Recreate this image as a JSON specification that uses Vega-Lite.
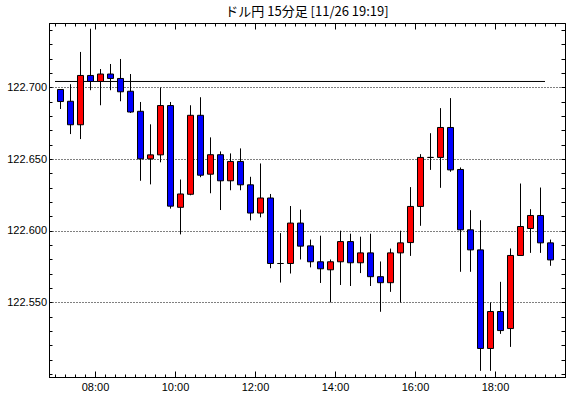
{
  "$schema": "https://vega.github.io/schema/vega-lite/v6.json",
  "width": 516,
  "height": 354,
  "autosize": {"type": "none"},
  "padding": {"left": 49, "top": 23, "right": 5, "bottom": 21},
  "background": "white",
  "title": {"text": "ドル円 15分足 [11/26 19:19]", "font": "Noto Sans CJK JP", "fontSize": 13, "fontWeight": "normal", "color": "black", "anchor": "middle", "offset": 4},
  "config": {
    "view": {"stroke": "black", "strokeWidth": 1},
    "axis": {"labelFont": "Liberation Sans", "labelFontSize": 11, "labelColor": "black", "tickColor": "black", "domainColor": "black", "tickWidth": 1, "grid": false, "title": null}
  },
  "datasets": {
    "candles": [
      {"t": "2015-11-26T07:00:00", "open": 122.6986, "high": 122.6986, "low": 122.6850, "close": 122.6902},
      {"t": "2015-11-26T07:15:00", "open": 122.6904, "high": 122.7023, "low": 122.6675, "close": 122.6740},
      {"t": "2015-11-26T07:30:00", "open": 122.6740, "high": 122.7248, "low": 122.6640, "close": 122.7084},
      {"t": "2015-11-26T07:45:00", "open": 122.7084, "high": 122.7410, "low": 122.6981, "close": 122.7042},
      {"t": "2015-11-26T08:00:00", "open": 122.7042, "high": 122.7129, "low": 122.6876, "close": 122.7094},
      {"t": "2015-11-26T08:15:00", "open": 122.7094, "high": 122.7164, "low": 122.6981, "close": 122.7063},
      {"t": "2015-11-26T08:30:00", "open": 122.7063, "high": 122.7199, "low": 122.6904, "close": 122.6970},
      {"t": "2015-11-26T08:45:00", "open": 122.6974, "high": 122.7094, "low": 122.6822, "close": 122.6829},
      {"t": "2015-11-26T09:00:00", "open": 122.6834, "high": 122.6899, "low": 122.6349, "close": 122.6502},
      {"t": "2015-11-26T09:15:00", "open": 122.6502, "high": 122.6743, "low": 122.6324, "close": 122.6530},
      {"t": "2015-11-26T09:30:00", "open": 122.6530, "high": 122.7000, "low": 122.6478, "close": 122.6874},
      {"t": "2015-11-26T09:45:00", "open": 122.6874, "high": 122.6899, "low": 122.6155, "close": 122.6172},
      {"t": "2015-11-26T10:00:00", "open": 122.6164, "high": 122.6358, "low": 122.5975, "close": 122.6257},
      {"t": "2015-11-26T10:15:00", "open": 122.6255, "high": 122.6876, "low": 122.6248, "close": 122.6806},
      {"t": "2015-11-26T10:30:00", "open": 122.6806, "high": 122.6932, "low": 122.6374, "close": 122.6388},
      {"t": "2015-11-26T10:45:00", "open": 122.6395, "high": 122.6652, "low": 122.6262, "close": 122.6531},
      {"t": "2015-11-26T11:00:00", "open": 122.6531, "high": 122.6554, "low": 122.6145, "close": 122.6349},
      {"t": "2015-11-26T11:15:00", "open": 122.6349, "high": 122.6540, "low": 122.6283, "close": 122.6484},
      {"t": "2015-11-26T11:30:00", "open": 122.6484, "high": 122.6575, "low": 122.6283, "close": 122.6321},
      {"t": "2015-11-26T11:45:00", "open": 122.6321, "high": 122.6377, "low": 122.6073, "close": 122.6124},
      {"t": "2015-11-26T12:00:00", "open": 122.6124, "high": 122.6470, "low": 122.6094, "close": 122.6229},
      {"t": "2015-11-26T12:15:00", "open": 122.6229, "high": 122.6257, "low": 122.5739, "close": 122.5772},
      {"t": "2015-11-26T12:30:00", "open": 122.5772, "high": 122.5984, "low": 122.5639, "close": 122.5772},
      {"t": "2015-11-26T12:45:00", "open": 122.5772, "high": 122.6173, "low": 122.5702, "close": 122.6054},
      {"t": "2015-11-26T13:00:00", "open": 122.6054, "high": 122.6148, "low": 122.5800, "close": 122.5893},
      {"t": "2015-11-26T13:15:00", "open": 122.5895, "high": 122.5939, "low": 122.5745, "close": 122.5784},
      {"t": "2015-11-26T13:30:00", "open": 122.5784, "high": 122.5966, "low": 122.5636, "close": 122.5735},
      {"t": "2015-11-26T13:45:00", "open": 122.5728, "high": 122.5800, "low": 122.5500, "close": 122.5784},
      {"t": "2015-11-26T14:00:00", "open": 122.5784, "high": 122.6001, "low": 122.5622, "close": 122.5925},
      {"t": "2015-11-26T14:15:00", "open": 122.5925, "high": 122.5980, "low": 122.5615, "close": 122.5777},
      {"t": "2015-11-26T14:30:00", "open": 122.5777, "high": 122.5959, "low": 122.5705, "close": 122.5846},
      {"t": "2015-11-26T14:45:00", "open": 122.5846, "high": 122.5980, "low": 122.5615, "close": 122.5680},
      {"t": "2015-11-26T15:00:00", "open": 122.5680, "high": 122.5786, "low": 122.5435, "close": 122.5638},
      {"t": "2015-11-26T15:15:00", "open": 122.5638, "high": 122.5876, "low": 122.5574, "close": 122.5846},
      {"t": "2015-11-26T15:30:00", "open": 122.5846, "high": 122.6001, "low": 122.5500, "close": 122.5916},
      {"t": "2015-11-26T15:45:00", "open": 122.5918, "high": 122.6305, "low": 122.5825, "close": 122.6170},
      {"t": "2015-11-26T16:00:00", "open": 122.6170, "high": 122.6535, "low": 122.6035, "close": 122.6512},
      {"t": "2015-11-26T16:15:00", "open": 122.6512, "high": 122.6681, "low": 122.6425, "close": 122.6512},
      {"t": "2015-11-26T16:30:00", "open": 122.6512, "high": 122.6856, "low": 122.6300, "close": 122.6721},
      {"t": "2015-11-26T16:45:00", "open": 122.6721, "high": 122.6926, "low": 122.6412, "close": 122.6425},
      {"t": "2015-11-26T17:00:00", "open": 122.6428, "high": 122.6442, "low": 122.5714, "close": 122.6007},
      {"t": "2015-11-26T17:15:00", "open": 122.6007, "high": 122.6144, "low": 122.5714, "close": 122.5867},
      {"t": "2015-11-26T17:30:00", "open": 122.5867, "high": 122.6074, "low": 122.5023, "close": 122.5179},
      {"t": "2015-11-26T17:45:00", "open": 122.5179, "high": 122.5500, "low": 122.5023, "close": 122.5437},
      {"t": "2015-11-26T18:00:00", "open": 122.5437, "high": 122.5644, "low": 122.5281, "close": 122.5304},
      {"t": "2015-11-26T18:15:00", "open": 122.5318, "high": 122.5877, "low": 122.5190, "close": 122.5828},
      {"t": "2015-11-26T18:30:00", "open": 122.5828, "high": 122.6330, "low": 122.5828, "close": 122.6030},
      {"t": "2015-11-26T18:45:00", "open": 122.6016, "high": 122.6151, "low": 122.5846, "close": 122.6107},
      {"t": "2015-11-26T19:00:00", "open": 122.6107, "high": 122.6302, "low": 122.5846, "close": 122.5916},
      {"t": "2015-11-26T19:15:00", "open": 122.5916, "high": 122.5939, "low": 122.5756, "close": 122.5797}
    ],
    "lvl": [
      {"start": "2015-11-26T07:00:00", "end": "2015-11-26T19:15:00", "price": 122.7042}
    ]
  },
  "resolve": {"axis": {"x": "independent", "y": "independent"}},
  "layer": [
    {
      "data": {"name": "lvl"},
      "mark": {"type": "rule", "color": "black", "strokeWidth": 1},
      "encoding": {
        "x": {
          "field": "start", "type": "temporal",
          "scale": {"domain": [{"year": 2015, "month": 11, "date": 26, "hours": 6, "minutes": 51}, {"year": 2015, "month": 11, "date": 26, "hours": 19, "minutes": 45}], "nice": false, "padding": 0},
          "axis": {
            "orient": "bottom",
            "values": [
              {"year": 2015, "month": 11, "date": 26, "hours": 8},
              {"year": 2015, "month": 11, "date": 26, "hours": 10},
              {"year": 2015, "month": 11, "date": 26, "hours": 12},
              {"year": 2015, "month": 11, "date": 26, "hours": 14},
              {"year": 2015, "month": 11, "date": 26, "hours": 16},
              {"year": 2015, "month": 11, "date": 26, "hours": 18}
            ],
            "format": "%H:%M",
            "tickSize": -6,
            "labelPadding": 10.5, "labelOverlap": false, "labelFlush": false
          }
        },
        "x2": {"field": "end"},
        "y": {
          "field": "price", "type": "quantitative",
          "scale": {"domain": [122.498, 122.745], "nice": false, "zero": false, "padding": 0},
          "axis": {
            "orient": "left",
            "values": [122.55, 122.6, 122.65, 122.7],
            "format": ".3f",
            "tickSize": -3,
            "labelPadding": 5.5, "labelOverlap": false, "labelFlush": false,
            "grid": true, "gridColor": "black", "gridDash": [1, 2], "gridWidth": 1, "gridOpacity": 1
          }
        }
      }
    },
    {
      "data": {"name": "candles"},
      "mark": {"type": "rule", "color": "black", "strokeWidth": 1, "xOffset": 5.5},
      "encoding": {
        "x": {
          "field": "t", "type": "temporal",
          "axis": {
            "orient": "bottom", "labels": false, "tickSize": -3,
            "values": [
              {"year": 2015, "month": 11, "date": 26, "hours": 7, "minutes": 0},
              {"year": 2015, "month": 11, "date": 26, "hours": 7, "minutes": 15},
              {"year": 2015, "month": 11, "date": 26, "hours": 7, "minutes": 30},
              {"year": 2015, "month": 11, "date": 26, "hours": 7, "minutes": 45},
              {"year": 2015, "month": 11, "date": 26, "hours": 8, "minutes": 15},
              {"year": 2015, "month": 11, "date": 26, "hours": 8, "minutes": 30},
              {"year": 2015, "month": 11, "date": 26, "hours": 8, "minutes": 45},
              {"year": 2015, "month": 11, "date": 26, "hours": 9, "minutes": 0},
              {"year": 2015, "month": 11, "date": 26, "hours": 9, "minutes": 15},
              {"year": 2015, "month": 11, "date": 26, "hours": 9, "minutes": 30},
              {"year": 2015, "month": 11, "date": 26, "hours": 9, "minutes": 45},
              {"year": 2015, "month": 11, "date": 26, "hours": 10, "minutes": 15},
              {"year": 2015, "month": 11, "date": 26, "hours": 10, "minutes": 30},
              {"year": 2015, "month": 11, "date": 26, "hours": 10, "minutes": 45},
              {"year": 2015, "month": 11, "date": 26, "hours": 11, "minutes": 0},
              {"year": 2015, "month": 11, "date": 26, "hours": 11, "minutes": 15},
              {"year": 2015, "month": 11, "date": 26, "hours": 11, "minutes": 30},
              {"year": 2015, "month": 11, "date": 26, "hours": 11, "minutes": 45},
              {"year": 2015, "month": 11, "date": 26, "hours": 12, "minutes": 15},
              {"year": 2015, "month": 11, "date": 26, "hours": 12, "minutes": 30},
              {"year": 2015, "month": 11, "date": 26, "hours": 12, "minutes": 45},
              {"year": 2015, "month": 11, "date": 26, "hours": 13, "minutes": 0},
              {"year": 2015, "month": 11, "date": 26, "hours": 13, "minutes": 15},
              {"year": 2015, "month": 11, "date": 26, "hours": 13, "minutes": 30},
              {"year": 2015, "month": 11, "date": 26, "hours": 13, "minutes": 45},
              {"year": 2015, "month": 11, "date": 26, "hours": 14, "minutes": 15},
              {"year": 2015, "month": 11, "date": 26, "hours": 14, "minutes": 30},
              {"year": 2015, "month": 11, "date": 26, "hours": 14, "minutes": 45},
              {"year": 2015, "month": 11, "date": 26, "hours": 15, "minutes": 0},
              {"year": 2015, "month": 11, "date": 26, "hours": 15, "minutes": 15},
              {"year": 2015, "month": 11, "date": 26, "hours": 15, "minutes": 30},
              {"year": 2015, "month": 11, "date": 26, "hours": 15, "minutes": 45},
              {"year": 2015, "month": 11, "date": 26, "hours": 16, "minutes": 15},
              {"year": 2015, "month": 11, "date": 26, "hours": 16, "minutes": 30},
              {"year": 2015, "month": 11, "date": 26, "hours": 16, "minutes": 45},
              {"year": 2015, "month": 11, "date": 26, "hours": 17, "minutes": 0},
              {"year": 2015, "month": 11, "date": 26, "hours": 17, "minutes": 15},
              {"year": 2015, "month": 11, "date": 26, "hours": 17, "minutes": 30},
              {"year": 2015, "month": 11, "date": 26, "hours": 17, "minutes": 45},
              {"year": 2015, "month": 11, "date": 26, "hours": 18, "minutes": 15},
              {"year": 2015, "month": 11, "date": 26, "hours": 18, "minutes": 30},
              {"year": 2015, "month": 11, "date": 26, "hours": 18, "minutes": 45},
              {"year": 2015, "month": 11, "date": 26, "hours": 19, "minutes": 0},
              {"year": 2015, "month": 11, "date": 26, "hours": 19, "minutes": 15},
              {"year": 2015, "month": 11, "date": 26, "hours": 19, "minutes": 30}
            ]
          }
        },
        "y": {
          "field": "low", "type": "quantitative",
          "axis": {
            "orient": "left", "labels": false, "tickSize": -3,
            "values": [122.5, 122.51, 122.52, 122.53, 122.54, 122.56, 122.57, 122.58, 122.59, 122.61, 122.62, 122.63, 122.64, 122.66, 122.67, 122.68, 122.69, 122.71, 122.72, 122.73, 122.74]
          }
        },
        "y2": {"field": "high"}
      }
    },
    {
      "data": {"name": "candles"},
      "mark": {"type": "bar", "size": 6, "stroke": "black", "strokeWidth": 1, "xOffset": 5.5},
      "encoding": {
        "x": {
          "field": "t", "type": "temporal",
          "axis": {
            "orient": "top", "labels": false,
            "tickSize": {"condition": {"test": "minutes(datum.value) == 0 && hours(datum.value) % 2 == 0", "value": -6}, "value": -3},
            "values": [
              {"year": 2015, "month": 11, "date": 26, "hours": 7, "minutes": 0},
              {"year": 2015, "month": 11, "date": 26, "hours": 7, "minutes": 15},
              {"year": 2015, "month": 11, "date": 26, "hours": 7, "minutes": 30},
              {"year": 2015, "month": 11, "date": 26, "hours": 7, "minutes": 45},
              {"year": 2015, "month": 11, "date": 26, "hours": 8, "minutes": 0},
              {"year": 2015, "month": 11, "date": 26, "hours": 8, "minutes": 15},
              {"year": 2015, "month": 11, "date": 26, "hours": 8, "minutes": 30},
              {"year": 2015, "month": 11, "date": 26, "hours": 8, "minutes": 45},
              {"year": 2015, "month": 11, "date": 26, "hours": 9, "minutes": 0},
              {"year": 2015, "month": 11, "date": 26, "hours": 9, "minutes": 15},
              {"year": 2015, "month": 11, "date": 26, "hours": 9, "minutes": 30},
              {"year": 2015, "month": 11, "date": 26, "hours": 9, "minutes": 45},
              {"year": 2015, "month": 11, "date": 26, "hours": 10, "minutes": 0},
              {"year": 2015, "month": 11, "date": 26, "hours": 10, "minutes": 15},
              {"year": 2015, "month": 11, "date": 26, "hours": 10, "minutes": 30},
              {"year": 2015, "month": 11, "date": 26, "hours": 10, "minutes": 45},
              {"year": 2015, "month": 11, "date": 26, "hours": 11, "minutes": 0},
              {"year": 2015, "month": 11, "date": 26, "hours": 11, "minutes": 15},
              {"year": 2015, "month": 11, "date": 26, "hours": 11, "minutes": 30},
              {"year": 2015, "month": 11, "date": 26, "hours": 11, "minutes": 45},
              {"year": 2015, "month": 11, "date": 26, "hours": 12, "minutes": 0},
              {"year": 2015, "month": 11, "date": 26, "hours": 12, "minutes": 15},
              {"year": 2015, "month": 11, "date": 26, "hours": 12, "minutes": 30},
              {"year": 2015, "month": 11, "date": 26, "hours": 12, "minutes": 45},
              {"year": 2015, "month": 11, "date": 26, "hours": 13, "minutes": 0},
              {"year": 2015, "month": 11, "date": 26, "hours": 13, "minutes": 15},
              {"year": 2015, "month": 11, "date": 26, "hours": 13, "minutes": 30},
              {"year": 2015, "month": 11, "date": 26, "hours": 13, "minutes": 45},
              {"year": 2015, "month": 11, "date": 26, "hours": 14, "minutes": 0},
              {"year": 2015, "month": 11, "date": 26, "hours": 14, "minutes": 15},
              {"year": 2015, "month": 11, "date": 26, "hours": 14, "minutes": 30},
              {"year": 2015, "month": 11, "date": 26, "hours": 14, "minutes": 45},
              {"year": 2015, "month": 11, "date": 26, "hours": 15, "minutes": 0},
              {"year": 2015, "month": 11, "date": 26, "hours": 15, "minutes": 15},
              {"year": 2015, "month": 11, "date": 26, "hours": 15, "minutes": 30},
              {"year": 2015, "month": 11, "date": 26, "hours": 15, "minutes": 45},
              {"year": 2015, "month": 11, "date": 26, "hours": 16, "minutes": 0},
              {"year": 2015, "month": 11, "date": 26, "hours": 16, "minutes": 15},
              {"year": 2015, "month": 11, "date": 26, "hours": 16, "minutes": 30},
              {"year": 2015, "month": 11, "date": 26, "hours": 16, "minutes": 45},
              {"year": 2015, "month": 11, "date": 26, "hours": 17, "minutes": 0},
              {"year": 2015, "month": 11, "date": 26, "hours": 17, "minutes": 15},
              {"year": 2015, "month": 11, "date": 26, "hours": 17, "minutes": 30},
              {"year": 2015, "month": 11, "date": 26, "hours": 17, "minutes": 45},
              {"year": 2015, "month": 11, "date": 26, "hours": 18, "minutes": 0},
              {"year": 2015, "month": 11, "date": 26, "hours": 18, "minutes": 15},
              {"year": 2015, "month": 11, "date": 26, "hours": 18, "minutes": 30},
              {"year": 2015, "month": 11, "date": 26, "hours": 18, "minutes": 45},
              {"year": 2015, "month": 11, "date": 26, "hours": 19, "minutes": 0},
              {"year": 2015, "month": 11, "date": 26, "hours": 19, "minutes": 15},
              {"year": 2015, "month": 11, "date": 26, "hours": 19, "minutes": 30}
            ]
          }
        },
        "y": {
          "field": "open", "type": "quantitative",
          "axis": {
            "orient": "right", "labels": false, "tickSize": -4,
            "values": [122.5, 122.51, 122.52, 122.53, 122.54, 122.55, 122.56, 122.57, 122.58, 122.59, 122.6, 122.61, 122.62, 122.63, 122.64, 122.65, 122.66, 122.67, 122.68, 122.69, 122.7, 122.71, 122.72, 122.73, 122.74]
          }
        },
        "y2": {"field": "close"},
        "fill": {"condition": {"test": "datum.close > datum.open", "value": "#ff0000"}, "value": "#0000ff"}
      }
    }
  ]
}
